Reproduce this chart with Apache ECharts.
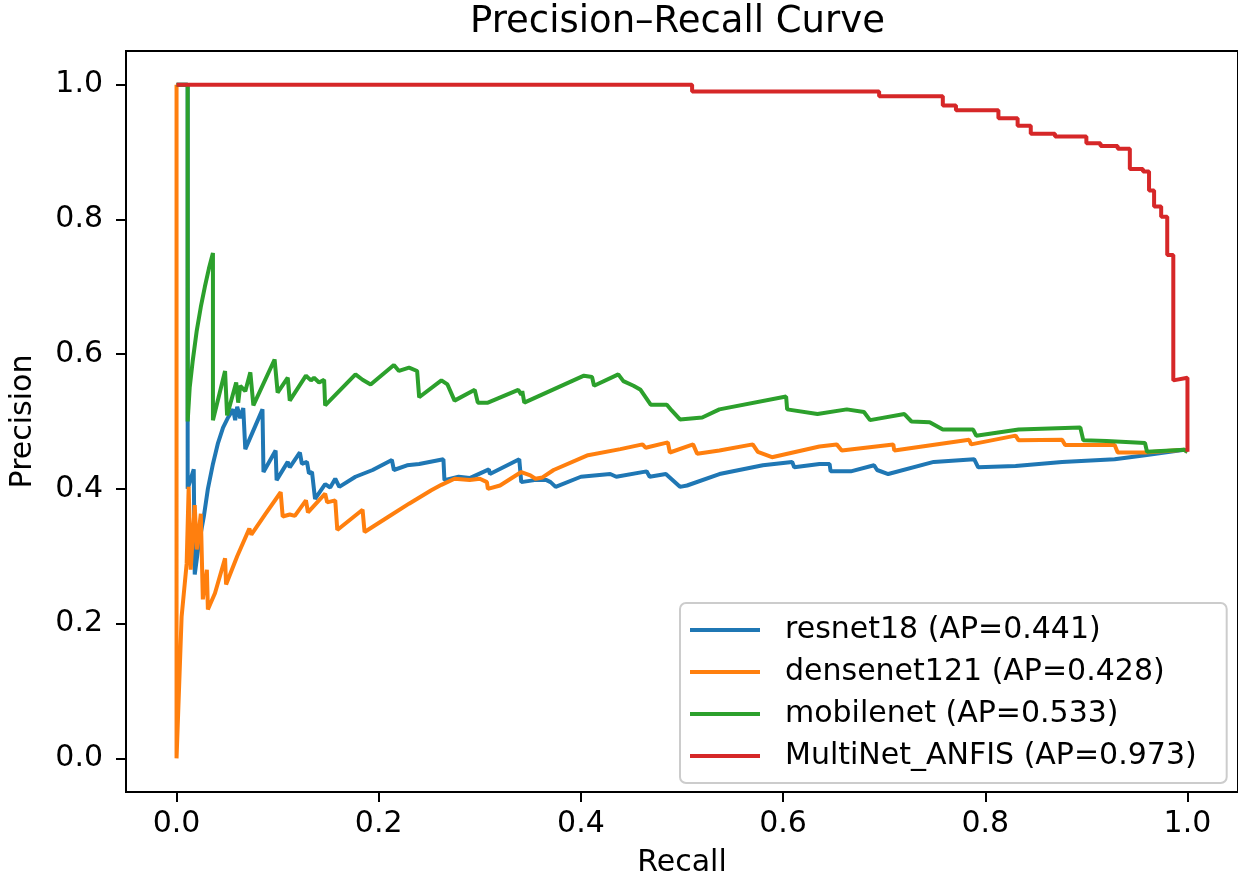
<!DOCTYPE html>
<html>
<head>
<meta charset="utf-8">
<script src="https://cdn.jsdelivr.net/npm/echarts@6/dist/echarts.min.js"></script>
<style>html,body{margin:0;padding:0;background:#fff}#chart{width:1238px;height:883px}</style>
</head>
<body>
<div id="chart"></div>
<script>
const titleText = 'Precision–Recall Curve';
const xName = 'Recall';
const yName = 'Precision';
const recallTicks = [0, 0.2, 0.4, 0.6, 0.8, 1.0];
const precisionTicks = [0, 0.2, 0.4, 0.6, 0.8, 1.0];
const seriesNames = ['resnet18 (AP=0.441)', 'densenet121 (AP=0.428)', 'mobilenet (AP=0.533)', 'MultiNet_ANFIS (AP=0.973)'];
const seriesColors = ['#1f77b4', '#ff7f0e', '#2ca02c', '#d62728'];

const resnet18 = [[0,1],[0.011,1],[0.011,0.5],[0.011,0.400],[0.017,0.429],[0.018,0.273],[0.022,0.318],[0.027,0.359],[0.031,0.40],[0.036,0.437],[0.041,0.468],[0.046,0.491],[0.051,0.506],[0.056,0.518],[0.058,0.502],[0.060,0.522],[0.063,0.505],[0.066,0.520],[0.068,0.459],[0.085,0.518],[0.086,0.425],[0.098,0.457],[0.099,0.413],[0.110,0.440],[0.112,0.432],[0.122,0.454],[0.124,0.437],[0.129,0.440],[0.131,0.423],[0.134,0.425],[0.137,0.385],[0.147,0.407],[0.152,0.402],[0.157,0.415],[0.161,0.403],[0.177,0.418],[0.194,0.428],[0.213,0.443],[0.215,0.428],[0.228,0.435],[0.240,0.437],[0.264,0.444],[0.265,0.413],[0.279,0.418],[0.290,0.416],[0.309,0.429],[0.310,0.422],[0.339,0.444],[0.341,0.410],[0.354,0.413],[0.366,0.413],[0.370,0.410],[0.375,0.403],[0.400,0.418],[0.429,0.422],[0.435,0.418],[0.465,0.426],[0.468,0.418],[0.484,0.422],[0.498,0.403],[0.505,0.405],[0.537,0.422],[0.580,0.435],[0.609,0.440],[0.611,0.432],[0.636,0.437],[0.646,0.437],[0.647,0.426],[0.667,0.426],[0.690,0.435],[0.693,0.428],[0.704,0.422],[0.749,0.440],[0.789,0.444],[0.793,0.432],[0.830,0.434],[0.876,0.440],[0.928,0.444],[0.958,0.450],[0.997,0.458],[1.0,0.455]];

const densenet121 = [[0,1],[0,0],[0.005,0.21],[0.010,0.289],[0.012,0.403],[0.014,0.28],[0.018,0.376],[0.020,0.31],[0.024,0.363],[0.026,0.236],[0.030,0.280],[0.031,0.221],[0.038,0.245],[0.048,0.297],[0.049,0.258],[0.060,0.30],[0.072,0.341],[0.074,0.332],[0.088,0.363],[0.103,0.395],[0.105,0.359],[0.112,0.362],[0.117,0.360],[0.128,0.383],[0.130,0.365],[0.147,0.393],[0.149,0.380],[0.157,0.383],[0.159,0.339],[0.184,0.369],[0.186,0.336],[0.210,0.359],[0.230,0.378],[0.252,0.398],[0.262,0.406],[0.275,0.415],[0.290,0.413],[0.300,0.415],[0.307,0.410],[0.308,0.400],[0.320,0.405],[0.341,0.425],[0.350,0.420],[0.355,0.415],[0.362,0.417],[0.373,0.428],[0.407,0.450],[0.439,0.459],[0.461,0.466],[0.464,0.461],[0.486,0.469],[0.488,0.454],[0.511,0.466],[0.515,0.452],[0.537,0.457],[0.570,0.466],[0.575,0.455],[0.589,0.447],[0.636,0.463],[0.653,0.466],[0.658,0.457],[0.709,0.466],[0.710,0.457],[0.784,0.473],[0.786,0.466],[0.830,0.479],[0.833,0.472],[0.876,0.473],[0.879,0.465],[0.928,0.465],[0.931,0.454],[0.958,0.454],[0.997,0.458],[1.0,0.455]];

const mobilenet = [[0,1],[0.011,1],[0.011,0.5],[0.013,0.55],[0.016,0.59],[0.020,0.635],[0.024,0.67],[0.028,0.70],[0.032,0.727],[0.036,0.75],[0.036,0.502],[0.048,0.575],[0.050,0.509],[0.059,0.558],[0.061,0.528],[0.063,0.553],[0.068,0.545],[0.073,0.573],[0.076,0.524],[0.097,0.592],[0.100,0.543],[0.110,0.565],[0.112,0.531],[0.128,0.568],[0.133,0.561],[0.136,0.565],[0.141,0.558],[0.146,0.562],[0.147,0.524],[0.177,0.570],[0.184,0.562],[0.192,0.555],[0.215,0.584],[0.220,0.575],[0.230,0.580],[0.238,0.575],[0.240,0.536],[0.262,0.561],[0.268,0.555],[0.275,0.531],[0.295,0.547],[0.298,0.528],[0.308,0.528],[0.338,0.547],[0.341,0.540],[0.342,0.545],[0.344,0.528],[0.403,0.568],[0.411,0.566],[0.413,0.553],[0.437,0.570],[0.442,0.560],[0.452,0.553],[0.459,0.547],[0.469,0.525],[0.485,0.525],[0.490,0.516],[0.498,0.503],[0.520,0.506],[0.537,0.518],[0.603,0.537],[0.604,0.518],[0.634,0.511],[0.663,0.518],[0.680,0.514],[0.686,0.502],[0.720,0.511],[0.727,0.500],[0.745,0.499],[0.758,0.488],[0.788,0.488],[0.791,0.479],[0.833,0.488],[0.894,0.491],[0.897,0.472],[0.920,0.471],[0.958,0.468],[0.960,0.455],[0.997,0.458],[1.0,0.455]];

const multinetAnfis = [[0,1],[0.51,1],[0.51,0.99],[0.695,0.99],[0.695,0.983],[0.758,0.983],[0.758,0.969],[0.771,0.969],[0.771,0.962],[0.813,0.962],[0.813,0.950],[0.832,0.950],[0.832,0.939],[0.845,0.939],[0.845,0.927],[0.869,0.927],[0.869,0.923],[0.9,0.923],[0.9,0.913],[0.914,0.913],[0.914,0.909],[0.931,0.909],[0.931,0.905],[0.943,0.905],[0.943,0.875],[0.956,0.875],[0.956,0.871],[0.962,0.871],[0.962,0.843],[0.967,0.843],[0.967,0.819],[0.974,0.819],[0.974,0.804],[0.980,0.804],[0.980,0.747],[0.986,0.747],[0.986,0.561],[1.0,0.565],[1.0,0.455]];

const allData = [resnet18, densenet121, mobilenet, multinetAnfis];
const FONT = 'DejaVu Sans';

const chart = echarts.init(document.getElementById('chart'), null, {renderer: 'canvas'});
const axisCommon = {
  type: 'value',
  min: -0.05,
  max: 1.05,
  nameLocation: 'middle',
  nameTextStyle: {fontSize: 30, color: '#000', fontFamily: FONT},
  axisLine: {show: true, onZero: false, lineStyle: {color: '#000', width: 2}},
  splitLine: {show: false}
};
chart.setOption({
  animation: false,
  backgroundColor: '#fff',
  textStyle: {fontFamily: FONT},
  title: {
    text: titleText,
    left: 470, top: 4, padding: 0,
    textStyle: {fontSize: 37, fontWeight: 'normal', color: '#000', fontFamily: FONT}
  },
  grid: {left: 122, right: -4, top: 51, bottom: 86, show: true, borderColor: '#000', borderWidth: 2, containLabel: false},
  xAxis: Object.assign({}, axisCommon, {
    name: xName, nameGap: 56,
    axisTick: {show: true, inside: false, length: 10, lineStyle: {color: '#000', width: 2}, customValues: recallTicks},
    axisLabel: {customValues: recallTicks, formatter: v => v.toFixed(1), fontSize: 30, color: '#000', margin: 17, fontFamily: FONT}
  }),
  yAxis: Object.assign({}, axisCommon, {
    name: yName, nameGap: 88, nameRotate: 90,
    axisTick: {show: true, inside: false, length: 10, lineStyle: {color: '#000', width: 2}, customValues: precisionTicks},
    axisLabel: {customValues: precisionTicks, formatter: v => v.toFixed(1), fontSize: 30, color: '#000', margin: 23, fontFamily: FONT}
  }),
  legend: {
    orient: 'vertical', left: 680, bottom: 100,
    itemWidth: 70, itemHeight: 4, icon: 'rect', itemGap: 12,
    padding: [12, 30, 12, 10],
    backgroundColor: 'rgba(255,255,255,0.8)', borderColor: '#cccccc', borderWidth: 2, borderRadius: 6,
    textStyle: {fontSize: 30, color: '#000', fontFamily: FONT, padding: [0, 0, 0, 20]},
    data: seriesNames
  },
  series: allData.map((d, i) => ({
    name: seriesNames[i],
    type: 'line',
    data: d,
    symbol: 'none',
    showSymbol: false,
    color: seriesColors[i],
    lineStyle: {width: 4, color: seriesColors[i]},
    z: 2 + i
  }))
});
</script>
</body>
</html>
